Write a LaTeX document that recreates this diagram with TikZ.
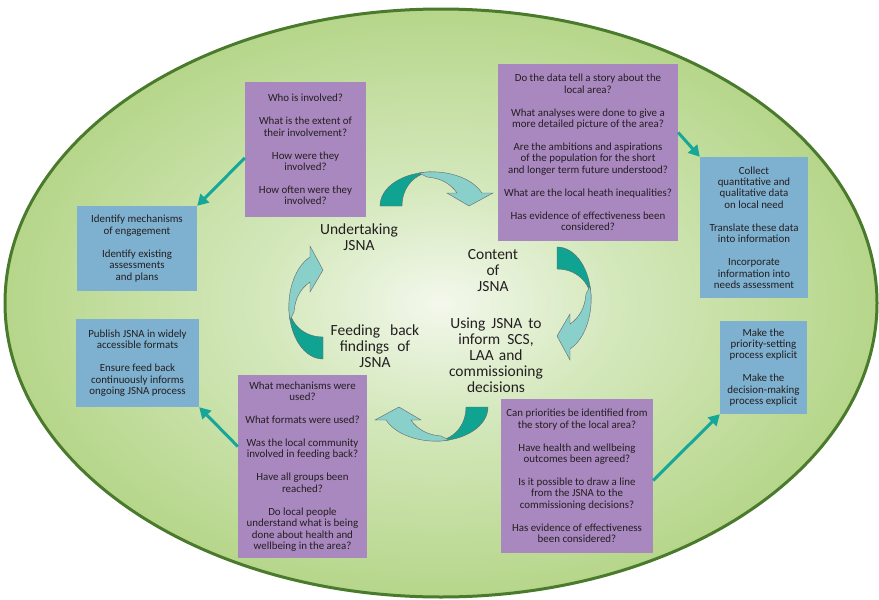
\documentclass[tikz,border=0pt]{standalone}
\usepackage{fontspec}
\setmainfont{Carlito}
\usetikzlibrary{arrows.meta}
\definecolor{boxpurple}{RGB}{169,135,191}
\definecolor{boxblue}{RGB}{126,176,207}
\definecolor{tealdark}{RGB}{16,163,145}
\definecolor{teallight}{RGB}{137,207,202}
\definecolor{tealline}{RGB}{22,167,152}
\definecolor{rimgreen}{RGB}{74,122,44}
\definecolor{txt}{RGB}{35,31,32}
\definecolor{gA}{RGB}{243,248,236}
\definecolor{gB}{RGB}{212,232,188}
\definecolor{gC}{RGB}{182,214,138}
\pgfdeclareradialshading{glow}{\pgfpoint{0bp}{0bp}}{color(0bp)=(gA); color(10bp)=(gB); color(25bp)=(gC); color(50bp)=(gC)}
\newcommand\gapline{\\[11.6pt]}
\tikzset{
  qbox/.style={fill=boxpurple, text=txt, align=center, inner sep=0pt,
    font=\fontsize{10.9}{11.4}\selectfont},
  abox/.style={fill=boxblue, text=txt, align=center, inner sep=0pt,
    font=\fontsize{10.9}{11.4}\selectfont},
  big/.style={text=txt, align=center, inner sep=0pt,
    font=\fontsize{15.5}{16}\selectfont},
  conn/.style={draw=tealline, line width=3pt, -{Triangle[length=11pt,width=12pt]}},
  darkpart/.style={fill=tealdark, draw=black!60, line width=0.4pt},
  lightpart/.style={fill=teallight, draw=black!60, line width=0.4pt},
  cyclearrow/.pic={
    \path[darkpart] (-57,16) .. controls (-57,-3) and (-34,-18) .. (-5,-18)
       .. controls (-22,-17) and (-35,-3) .. (-35,16) -- cycle;
    \path[lightpart] (-18,-17) .. controls (3,-21) and (33,-15) .. (45,3)
       -- (56,3) -- (32,16) -- (10,3) -- (20,3)
       .. controls (13,-7) and (3,-12) .. (-10,-13) -- cycle;
  }
}
\begin{document}
\begin{tikzpicture}[x=1pt,y=-1pt]
\useasboundingbox (0,0) rectangle (879,600);
\shade[shading=glow] (441,303) ellipse [x radius=436pt, y radius=294pt];
\draw[rimgreen, line width=3pt] (441,303) ellipse [x radius=436pt, y radius=294pt];

\node[qbox, minimum width=121pt, minimum height=135pt] (b1) at (305.5,149.5)
 {Who is involved?\gapline What is the extent of\\their involvement?\gapline How were they\\involved?\gapline How often were they\\involved?};
\node[qbox, minimum width=180pt, minimum height=177pt] (b2) at (588,152.5)
 {Do the data tell a story about the\\local area?\gapline What analyses were done to give a\\more detailed picture of the area?\gapline Are the ambitions and aspirations\\of the population for the short\\and longer term future understood?\gapline What are the local heath inequalities?\gapline Has evidence of effectiveness been\\considered?};
\node[abox, minimum width=108pt, minimum height=141pt] (b3) at (754,227.5)
 {Collect\\quantitative and\\qualitative data\\on local need\gapline Translate these data\\into information\gapline Incorporate\\information into\\needs assessment};
\node[abox, minimum width=120pt, minimum height=85pt] (b4) at (137,248.5)
 {Identify mechanisms\\of engagement\gapline Identify existing\\assessments\\and plans};
\node[abox, minimum width=123pt, minimum height=88pt] (b5) at (137.5,363)
 {Publish JSNA in widely\\accessible formats\gapline Ensure feed back\\continuously informs\\ongoing JSNA process};
\node[abox, minimum width=87pt, minimum height=93pt] (b6) at (763.5,367.5)
 {Make the\\priority-setting\\process explicit\gapline Make the\\decision-making\\process explicit};
\node[qbox, minimum width=129pt, minimum height=183pt] (b7) at (302.5,466.5)
 {What mechanisms were\\used?\gapline What formats were used?\gapline Was the local community\\involved in feeding back?\gapline Have all groups been\\reached?\gapline Do local people\\understand what is being\\done about health and\\wellbeing in the area?};
\node[qbox, minimum width=152pt, minimum height=154pt] (b8) at (577,476)
 {Can priorities be identified from\\the story of the local area?\gapline Have health and wellbeing\\outcomes been agreed?\gapline Is it possible to draw a line\\from the JSNA to the\\commissioning decisions?\gapline Has evidence of effectiveness\\been considered?};

\draw[conn] ([yshift=-8.5pt]b1.west) -- (b4.north east);
\draw[conn] ([yshift=20pt]b2.east) -- (b3.north west);
\draw[conn] ([yshift=20pt]b7.west) -- (b5.south east);
\draw[conn] ([yshift=-4.5pt]b8.east) -- (b6.south west);

\node[big] (l1) at (359,237) {Undertaking\\JSNA};
\node[big] (l2) at (493,270.5) {Content\\of\\JSNA};
\node[big] (l3) at (375,346.5) {Feeding\hspace{10pt}back\\findings\hspace{8pt}of\\JSNA};
\node[big] (l4) at (496,355) {Using\hspace{6pt}JSNA\hspace{6pt}to\\inform\hspace{7pt}SCS,\\LAA\hspace{5pt}and\\commissioning\\decisions};

\pic at (437,190) {cyclearrow};
\pic[rotate=-90] at (573,304) {cyclearrow};
\pic[rotate=180] at (431,423) {cyclearrow};
\pic[rotate=90] at (307,302) {cyclearrow};
\end{tikzpicture}
\end{document}
